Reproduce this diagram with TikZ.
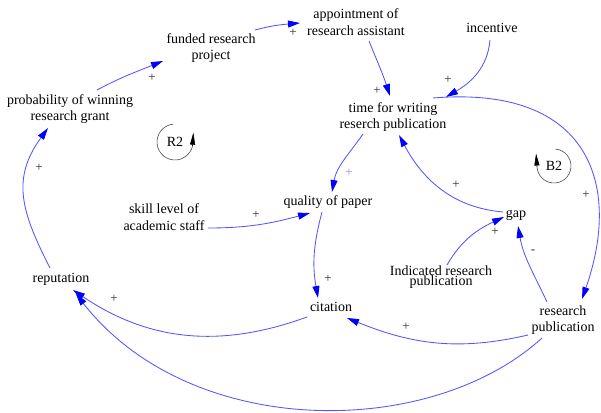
\documentclass[tikz,border=0pt]{standalone}
\usepackage{fontspec}
\setmainfont{Liberation Serif}
\newfontfamily\diagfont{Liberation Serif}
\usetikzlibrary{arrows.meta}
\definecolor{linkblue}{RGB}{85,85,255}
\definecolor{tipblue}{RGB}{0,0,255}
\definecolor{signgray}{RGB}{45,45,45}
\definecolor{signlight}{RGB}{150,140,230}
\begin{document}
\begin{tikzpicture}[x=1pt,y=1pt,
  var/.style={font=\diagfont\fontsize{14}{16.5}\selectfont, align=center, inner sep=1pt, text=black},
  link/.style={draw=linkblue, line width=0.85pt, -{Triangle[length=12pt,width=7pt,color=tipblue]}},
  sgn/.style={font=\diagfont\fontsize{13}{13}\selectfont, inner sep=0pt, text=signgray},
  loopc/.style={draw=black!70, line width=0.6pt},
  looptip/.style={draw=black, line width=0.6pt, -{Triangle[length=12pt,width=5pt]}}]
\useasboundingbox (0,0) rectangle (601,-412);
\fill[white] (0,0) rectangle (601,-412);

% variables
\node[var] (appt) at (356,-22) {appointment of\\research assistant};
\node[var] (funded) at (211,-48) {funded research\\project};
\node[var] (prob) at (70,-109) {probability of winning\\research grant};
\node[var] (incentive) at (492,-28) {incentive};
\node[var] (time) at (393,-117) {time for writing\\reserch publication};
\node[var] (quality) at (328,-202) {quality of paper};
\node[var] (skill) at (164,-217) {skill level of\\academic staff};
\node[var] (gap) at (516,-215) {gap};
\node[var, font=\diagfont\fontsize{14}{10}\selectfont] (ind) at (441,-277) {Indicated research\\publication};
\node[var] (rep) at (61,-279) {reputation};
\node[var] (cit) at (331,-307) {citation};
\node[var] (rpub) at (563,-320) {research\\publication};

% links
\draw[link] ([shift={(27,19)}]prob.center) to[out=28,in=202] ([shift={(-48,-13)}]funded.center);
\draw[link] ([shift={(44,18)}]funded.center) to[out=15,in=185] ([shift={(-56,-1)}]appt.center);
\draw[link] ([shift={(13,-19)}]appt.center) to[out=-68,in=108] ([shift={(-3,21)}]time.center);
\draw[link] ([shift={(-2,-12)}]incentive.center) to[out=-95,in=30] ([shift={(53,20)}]time.center);
\draw[link] ([shift={(40,19)}]time.center) .. controls (590,-85) and (622,-185) .. ([shift={(19,21)}]rpub.center);
\draw[link] ([shift={(-30,-17)}]time.center) to[out=-125,in=80] ([shift={(4,10)}]quality.center);
\draw[link] ([shift={(44,-11)}]skill.center) to[out=0,in=195] ([shift={(-18,-11)}]quality.center);
\draw[link] ([shift={(-6,-10)}]quality.center) to[out=-105,in=100] ([shift={(-13,9)}]cit.center);
\draw[link] ([shift={(-13,3)}]gap.center) to[out=175,in=-62] ([shift={(6,-18)}]time.center);
\draw[link] ([shift={(6,12)}]ind.center) to[out=60,in=205] ([shift={(-12,-2)}]gap.center);
\draw[link] ([shift={(-16,18)}]rpub.center) to[out=115,in=-80] ([shift={(2,-11)}]gap.center);
\draw[link] ([shift={(-35,-15)}]rpub.center) to[out=193,in=-22] ([shift={(16,-11)}]cit.center);
\draw[link] ([shift={(-24,-10)}]cit.center) to[out=200,in=-34] ([shift={(12,-11)}]rep.center);
\draw[link] ([shift={(-21,-18)}]rpub.center) .. controls (430,-440) and (190,-440) .. ([shift={(15,-15)}]rep.center);
\draw[link] ([shift={(-11,11)}]rep.center) to[out=117,in=-126,looseness=1.15] ([shift={(-22,-19)}]prob.center);

% polarities
\node[sgn] (s1) at (152,-78) {+};
\node[sgn] (s2) at (293,-33) {+};
\node[sgn] (s3) at (377,-91) {+};
\node[sgn] (s4) at (448,-80) {+};
\node[sgn, text=signlight] (s5) at (349,-173) {+};
\node[sgn] (s6) at (456,-185) {+};
\node[sgn] (s7) at (586,-195) {+};
\node[sgn] (s8) at (256,-215) {+};
\node[sgn] (s9) at (328,-279) {+};
\node[sgn] (s10) at (495,-232) {+};
\node[sgn] (s11) at (533,-252) {-};
\node[sgn] (s12) at (406,-327) {+};
\node[sgn] (s13) at (114,-299) {+};
\node[sgn] (s14) at (39,-168) {+};

% loop markers
\node[font=\diagfont\fontsize{14}{14}\selectfont, inner sep=0pt] (r2) at (175,-142) {R2};
\draw[loopc] ([shift={(95:18)}]r2.center) arc[start angle=95,end angle=345,radius=18];
\draw[looptip] ([shift={(345:18)}]r2.center) -- ++(1,14);
\node[font=\diagfont\fontsize{14}{14}\selectfont, inner sep=0pt] (b2) at (554,-166) {B2};
\draw[loopc] ([shift={(85:17)}]b2.center) arc[start angle=85,end angle=-175,radius=17];
\draw[looptip] ([shift={(-175:17)}]b2.center) -- ++(-1,14);
\end{tikzpicture}
\end{document}
